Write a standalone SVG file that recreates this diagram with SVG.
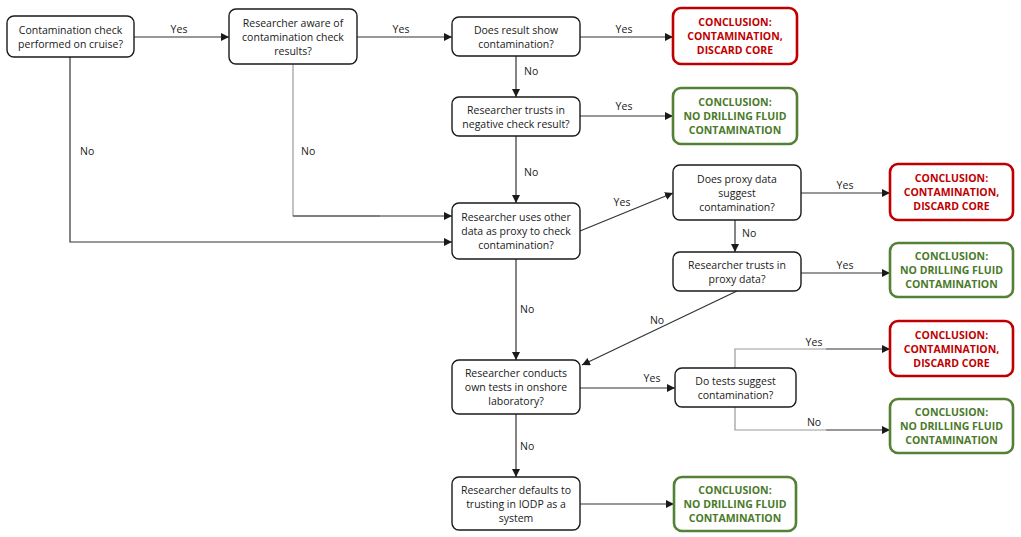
<svg xmlns="http://www.w3.org/2000/svg" width="1021" height="537" viewBox="0 0 1021 537">
<style>
text{font-family:"Open Sans","Noto Sans","Liberation Sans",sans-serif;font-size:10.5px;fill:#1a1a1a;text-anchor:middle}
.q{fill:#fff;stroke:#1a1a1a;stroke-width:1.4}
.r{fill:#fff;stroke:#c00000;stroke-width:2.6}
.g{fill:#fff;stroke:#538135;stroke-width:2.6}
.rt{fill:#c00000;font-weight:bold}
.gt{fill:#4a7a2a;font-weight:bold}
.c{fill:none;stroke:#333;stroke-width:1.2}
.cg{fill:none;stroke:#999;stroke-width:1.2}
.l{text-anchor:start}
</style>
<defs>
<marker id="ah" viewBox="0 0 8 8" refX="8" refY="4" markerWidth="8" markerHeight="8" markerUnits="userSpaceOnUse" orient="auto">
<path d="M0,0 L8,4 L0,8 z" fill="#1a1a1a"/>
</marker>
</defs>
<rect width="1021" height="537" fill="#fff"/>
<g id="connectors">
<line class="c" x1="134" y1="37" x2="229" y2="37" marker-end="url(#ah)"/>
<line class="c" x1="357" y1="37" x2="452" y2="37" marker-end="url(#ah)"/>
<line class="c" x1="580" y1="37" x2="673" y2="37" marker-end="url(#ah)"/>
<line class="c" x1="516" y1="56" x2="516" y2="97" marker-end="url(#ah)"/>
<line class="c" x1="580" y1="116" x2="673" y2="116" marker-end="url(#ah)"/>
<line class="c" x1="516" y1="136" x2="516" y2="203" marker-end="url(#ah)"/>
<polyline class="c" points="70,57 70,242 452,242" marker-end="url(#ah)"/>
<polyline class="cg" points="293,64 293,216 380,216"/>
<line class="c" x1="293" y1="216" x2="452" y2="216" marker-end="url(#ah)"/>
<line class="c" x1="580" y1="231" x2="673" y2="193" marker-end="url(#ah)"/>
<line class="c" x1="801" y1="193" x2="890" y2="193" marker-end="url(#ah)"/>
<line class="c" x1="735" y1="220" x2="735" y2="252" marker-end="url(#ah)"/>
<line class="c" x1="801" y1="273" x2="890" y2="273" marker-end="url(#ah)"/>
<line class="c" x1="516" y1="259" x2="516" y2="360" marker-end="url(#ah)"/>
<line class="c" x1="737" y1="291" x2="582" y2="365" marker-end="url(#ah)"/>
<line class="c" x1="580" y1="388" x2="675" y2="388" marker-end="url(#ah)"/>
<polyline class="cg" points="735,368 735,349 826,349"/>
<line class="c" x1="826" y1="349" x2="890" y2="349" marker-end="url(#ah)"/>
<polyline class="cg" points="735,407 735,430 826,430"/>
<line class="c" x1="826" y1="430" x2="890" y2="430" marker-end="url(#ah)"/>
<line class="c" x1="516" y1="414" x2="516" y2="477" marker-end="url(#ah)"/>
<line class="c" x1="580" y1="504" x2="674" y2="504" marker-end="url(#ah)"/>
<text x="179" y="33">Yes</text>
<text x="401" y="33">Yes</text>
<text x="624" y="33">Yes</text>
<text class="l" x="524" y="75">No</text>
<text x="624" y="110">Yes</text>
<text class="l" x="524" y="176">No</text>
<text class="l" x="80" y="155">No</text>
<text class="l" x="301" y="155">No</text>
<text x="622" y="206">Yes</text>
<text x="845" y="189">Yes</text>
<text class="l" x="742" y="237">No</text>
<text x="845" y="269">Yes</text>
<text class="l" x="520" y="313">No</text>
<text x="657" y="324">No</text>
<text x="652" y="382">Yes</text>
<text x="814" y="346">Yes</text>
<text x="814" y="426">No</text>
<text class="l" x="520" y="450">No</text>
</g>
<g id="n1"><rect class="q" x="7" y="16" width="127" height="41" rx="7"/><text x="70.5" y="33.5">Contamination check</text><text x="70.5" y="47.5">performed on cruise?</text></g>
<g id="n2"><rect class="q" x="229" y="9" width="128" height="55" rx="7"/><text x="293" y="26.5">Researcher aware of</text><text x="293" y="40.5">contamination check</text><text x="293" y="54.5">results?</text></g>
<g id="n3"><rect class="q" x="452" y="17" width="128" height="39" rx="7"/><text x="516" y="33.5">Does result show</text><text x="516" y="47.5">contamination?</text></g>
<g id="c1"><rect class="r" x="673" y="8" width="124" height="56" rx="8"/><text class="rt" x="735" y="26">CONCLUSION:</text><text class="rt" x="735" y="40">CONTAMINATION,</text><text class="rt" x="735" y="54">DISCARD CORE</text></g>
<g id="n4"><rect class="q" x="452" y="97" width="128" height="39" rx="7"/><text x="516" y="113.5">Researcher trusts in</text><text x="516" y="127.5">negative check result?</text></g>
<g id="c2"><rect class="g" x="673" y="88" width="124" height="56" rx="8"/><text class="gt" x="735" y="106">CONCLUSION:</text><text class="gt" x="735" y="120">NO DRILLING FLUID</text><text class="gt" x="735" y="134">CONTAMINATION</text></g>
<g id="n5"><rect class="q" x="452" y="203" width="128" height="56" rx="7"/><text x="516" y="221">Researcher uses other</text><text x="516" y="235">data as proxy to check</text><text x="516" y="249">contamination?</text></g>
<g id="n6"><rect class="q" x="673" y="165" width="128" height="55" rx="7"/><text x="737" y="183">Does proxy data</text><text x="737" y="197">suggest</text><text x="737" y="211">contamination?</text></g>
<g id="c3"><rect class="r" x="890" y="164" width="123" height="56" rx="8"/><text class="rt" x="951.5" y="182">CONCLUSION:</text><text class="rt" x="951.5" y="196">CONTAMINATION,</text><text class="rt" x="951.5" y="210">DISCARD CORE</text></g>
<g id="n7"><rect class="q" x="673" y="252" width="128" height="39" rx="7"/><text x="737" y="268.5">Researcher trusts in</text><text x="737" y="282.5">proxy data?</text></g>
<g id="c4"><rect class="g" x="890" y="243" width="123" height="54" rx="8"/><text class="gt" x="951.5" y="260">CONCLUSION:</text><text class="gt" x="951.5" y="274">NO DRILLING FLUID</text><text class="gt" x="951.5" y="288">CONTAMINATION</text></g>
<g id="n8"><rect class="q" x="452" y="360" width="128" height="54" rx="7"/><text x="516" y="377">Researcher conducts</text><text x="516" y="391">own tests in onshore</text><text x="516" y="405">laboratory?</text></g>
<g id="n9"><rect class="q" x="675" y="368" width="121" height="39" rx="7"/><text x="735.5" y="384.5">Do tests suggest</text><text x="735.5" y="398.5">contamination?</text></g>
<g id="c5"><rect class="r" x="890" y="321" width="123" height="55" rx="8"/><text class="rt" x="951.5" y="338.5">CONCLUSION:</text><text class="rt" x="951.5" y="352.5">CONTAMINATION,</text><text class="rt" x="951.5" y="366.5">DISCARD CORE</text></g>
<g id="c6"><rect class="g" x="890" y="399" width="123" height="54" rx="8"/><text class="gt" x="951.5" y="416">CONCLUSION:</text><text class="gt" x="951.5" y="430">NO DRILLING FLUID</text><text class="gt" x="951.5" y="444">CONTAMINATION</text></g>
<g id="n10"><rect class="q" x="452" y="477" width="128" height="53" rx="7"/><text x="516" y="493.5">Researcher defaults to</text><text x="516" y="507.5">trusting in IODP as a</text><text x="516" y="521.5">system</text></g>
<g id="c7"><rect class="g" x="674" y="477" width="122" height="54" rx="8"/><text class="gt" x="735" y="494">CONCLUSION:</text><text class="gt" x="735" y="508">NO DRILLING FLUID</text><text class="gt" x="735" y="522">CONTAMINATION</text></g>
</svg>
